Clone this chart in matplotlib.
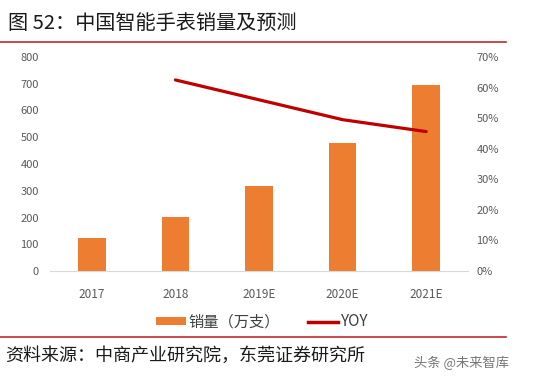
import matplotlib
matplotlib.use("Agg")
import matplotlib.pyplot as plt
from matplotlib.lines import Line2D
from matplotlib.patches import Patch
from matplotlib.ticker import FuncFormatter

plt.rcParams['font.family'] = ['Noto Sans CJK SC', 'DejaVu Sans']

categories = ["2017", "2018", "2019E", "2020E", "2021E"]
sales = [125, 202, 318, 480, 697]
yoy_categories = ["2018", "2019E", "2020E", "2021E"]
yoy = [62.5, 56.0, 49.5, 45.6]
left_ticks = [0, 100, 200, 300, 400, 500, 600, 700, 800]
right_ticks = [0, 10, 20, 30, 40, 50, 60, 70]

W, H = 537, 381
fig = plt.figure(figsize=(W / 100, H / 100), dpi=100)

def ax_rect(x0, y0, x1, y1):
    return [x0 / W, 1 - y1 / H, (x1 - x0) / W, (y1 - y0) / H]

ax = fig.add_axes(ax_rect(50, 57, 468, 271))
x = list(range(len(categories)))
ax.bar(x, sales, width=0.33, color="#ED7D31", zorder=2)
ax.set_xlim(-0.5, len(categories) - 0.5)
ax.set_ylim(0, 800)
ax.set_yticks(left_ticks)
ax.set_xticks(x)
ax.set_xticklabels(categories)
for s in ["top", "right", "left"]:
    ax.spines[s].set_visible(False)
ax.spines["bottom"].set_color("#D9D9D9")
ax.tick_params(axis="both", length=0, colors="#595959", labelsize=8)
ax.tick_params(axis="x", pad=12, labelsize=8.5)
ax.tick_params(axis="y", pad=8)

ax2 = ax.twinx()
xi = [categories.index(c) for c in yoy_categories]
ax2.plot(xi, yoy, color="#C00000", lw=2.3, zorder=3, solid_capstyle="round")
ax2.set_ylim(0, 70)
ax2.set_yticks(right_ticks)
ax2.yaxis.set_major_formatter(FuncFormatter(lambda v, p: f"{int(v)}%"))
for s in ["top", "right", "left", "bottom"]:
    ax2.spines[s].set_visible(False)
ax2.tick_params(axis="y", length=0, colors="#595959", labelsize=8, pad=6)

# title
fig.text(8 / W, 1 - 24 / H, "图 52：中国智能手表销量及预测", fontsize=14.5,
         va="center", ha="left", color="#1a1a1a")
fig.add_artist(Line2D([0, 506 / W], [1 - 42 / H, 1 - 42 / H], color="#C0282D", lw=1.2))

# legend
handles = [Patch(facecolor="#ED7D31", edgecolor="none", label="销量（万支）"),
           Line2D([0], [0], color="#C00000", lw=2.5, label="YOY")]
fig.legend(handles=handles, loc="center", bbox_to_anchor=(262 / W, 1 - 322 / H),
           ncol=2, frameon=False, fontsize=11, handlelength=2.0, handleheight=0.5,
           columnspacing=1.8, handletextpad=0.15, labelcolor="#404040")

fig.add_artist(Line2D([0, 506 / W], [1 - 337 / H, 1 - 337 / H], color="#C0282D", lw=1.2))
fig.text(5 / W, 1 - 356 / H, "资料来源：中商产业研究院，东莞证券研究所", fontsize=13,
         va="center", ha="left", color="#1a1a1a")
fig.text(414 / W, 1 - 363 / H, "头条 @未来智库", fontsize=9.5,
         va="center", ha="left", color="#777777")

fig.savefig("out.png", dpi=100)
